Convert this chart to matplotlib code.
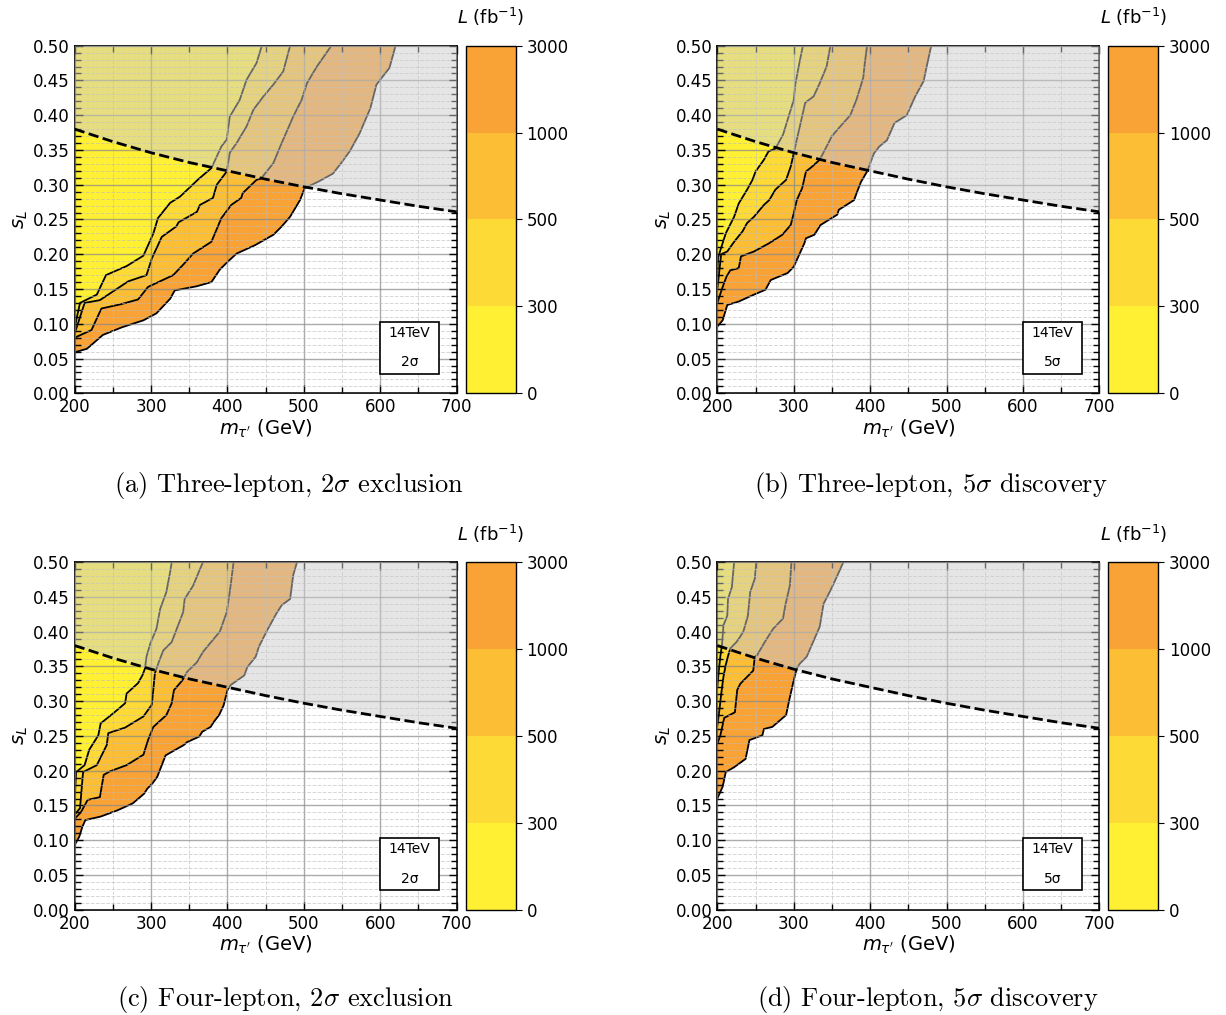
import matplotlib
matplotlib.use("Agg")
import matplotlib.pyplot as plt
import numpy as np
from matplotlib.colors import ListedColormap, Normalize
from matplotlib.cm import ScalarMappable
from matplotlib.patches import Rectangle
from matplotlib.ticker import MultipleLocator, FormatStrFormatter

plt.rcParams["mathtext.fontset"] = "dejavusans"

# luminosity bins of the colour bar
lumi_labels = ["0", "300", "500", "1000", "3000"]
lumi_colors = ["#FFF033", "#FDDA35", "#FBBE35", "#F9A336"]

# dashed bound (s_L upper limit)
bound_m = [200, 250, 300, 350, 400, 450, 500, 550, 600, 650, 700]
bound_s = [0.380, 0.362, 0.346, 0.332, 0.320, 0.308, 0.297, 0.287, 0.278, 0.269, 0.261]

# (a) three-lepton, 2 sigma : contours (m, s_L) for 300/500/1000/3000 fb^-1
a_300 = [(200, 0.093), (203, 0.110), (207, 0.130), (229, 0.142), (241, 0.170), (268, 0.183),
         (290, 0.198), (303, 0.230), (309, 0.252), (325, 0.274), (338, 0.283), (362, 0.308),
         (379, 0.324), (392, 0.355), (399, 0.365), (403, 0.398), (416, 0.422), (425, 0.451),
         (438, 0.475), (445, 0.50)]
a_500 = [(200, 0.086), (213, 0.130), (233, 0.134), (270, 0.161), (294, 0.170), (301, 0.194),
         (314, 0.225), (333, 0.240), (336, 0.246), (360, 0.261), (364, 0.271), (381, 0.281),
         (386, 0.300), (399, 0.319), (403, 0.346), (412, 0.360), (425, 0.384), (434, 0.408),
         (447, 0.427), (460, 0.444), (473, 0.463), (482, 0.50)]
a_1000 = [(200, 0.080), (212, 0.086), (222, 0.091), (235, 0.122), (260, 0.128), (283, 0.135),
          (296, 0.153), (329, 0.170), (342, 0.185), (355, 0.201), (379, 0.218), (392, 0.252),
          (405, 0.271), (418, 0.281), (420, 0.288), (438, 0.307), (444, 0.309), (460, 0.331),
          (469, 0.355), (486, 0.398), (497, 0.422), (504, 0.446), (517, 0.470), (536, 0.50)]
a_3000 = [(200, 0.059), (216, 0.064), (237, 0.084), (262, 0.095), (290, 0.105), (307, 0.115),
          (325, 0.136), (331, 0.148), (360, 0.154), (379, 0.160), (390, 0.178), (401, 0.190),
          (412, 0.201), (436, 0.213), (460, 0.228), (471, 0.240), (482, 0.254), (495, 0.278),
          (501, 0.295), (520, 0.305), (538, 0.316), (548, 0.330), (560, 0.348), (573, 0.374),
          (580, 0.392), (587, 0.410), (595, 0.444), (612, 0.468), (620, 0.50)]

# (b) three-lepton, 5 sigma
b_300 = [(200, 0.173), (201, 0.195), (204, 0.206), (211, 0.230), (222, 0.254), (228, 0.273),
         (239, 0.293), (246, 0.307), (250, 0.319), (261, 0.336), (267, 0.348), (276, 0.352),
         (286, 0.372), (300, 0.422), (302, 0.444), (307, 0.473), (312, 0.50)]
b_500 = [(200, 0.150), (203, 0.180), (205, 0.200), (213, 0.204), (222, 0.218), (233, 0.233),
         (239, 0.245), (248, 0.254), (261, 0.271), (268, 0.278), (276, 0.293), (290, 0.307),
         (296, 0.326), (300, 0.345), (304, 0.365), (308, 0.384), (315, 0.418), (326, 0.427),
         (334, 0.446), (343, 0.470), (348, 0.50)]
b_1000 = [(200, 0.130), (206, 0.150), (212, 0.168), (217, 0.177), (228, 0.180), (231, 0.197),
          (248, 0.204), (268, 0.216), (285, 0.228), (296, 0.242), (300, 0.259), (304, 0.278),
          (311, 0.295), (316, 0.319), (324, 0.326), (334, 0.336), (343, 0.355), (350, 0.370),
          (361, 0.384), (374, 0.400), (382, 0.422), (391, 0.454), (393, 0.475), (396, 0.50)]
b_3000 = [(200, 0.096), (207, 0.105), (213, 0.127), (228, 0.132), (246, 0.141), (263, 0.149),
          (270, 0.163), (292, 0.173), (300, 0.182), (307, 0.199), (314, 0.216), (316, 0.223),
          (327, 0.228), (335, 0.242), (357, 0.257), (359, 0.264), (372, 0.273), (379, 0.278),
          (383, 0.290), (388, 0.304), (396, 0.319), (405, 0.345), (412, 0.355), (422, 0.364),
          (432, 0.389), (448, 0.400), (459, 0.427), (470, 0.449), (474, 0.470), (480, 0.50)]

# (c) four-lepton, 2 sigma
c_300 = [(200, 0.160), (202, 0.198), (213, 0.208), (219, 0.230), (231, 0.251), (234, 0.268),
         (251, 0.283), (266, 0.297), (268, 0.311), (283, 0.326), (289, 0.338), (292, 0.347),
         (294, 0.364), (299, 0.383), (307, 0.404), (312, 0.433), (320, 0.457), (325, 0.486),
         (327, 0.50)]
c_500 = [(200, 0.137), (207, 0.146), (211, 0.198), (229, 0.208), (242, 0.237), (244, 0.254),
         (266, 0.262), (290, 0.278), (301, 0.295), (305, 0.340), (310, 0.356), (316, 0.373),
         (327, 0.385), (342, 0.428), (344, 0.447), (355, 0.466), (364, 0.490), (368, 0.50)]
c_1000 = [(200, 0.131), (208, 0.140), (217, 0.158), (233, 0.162), (238, 0.194), (246, 0.199),
          (268, 0.208), (290, 0.223), (296, 0.244), (303, 0.263), (320, 0.280), (327, 0.297),
          (330, 0.316), (341, 0.330), (347, 0.342), (360, 0.356), (368, 0.371), (377, 0.383),
          (390, 0.400), (399, 0.428), (403, 0.457), (408, 0.50)]
c_3000 = [(200, 0.093), (206, 0.105), (210, 0.119), (214, 0.129), (234, 0.134), (256, 0.143),
          (276, 0.153), (291, 0.167), (295, 0.174), (302, 0.182), (308, 0.191), (313, 0.205),
          (319, 0.222), (343, 0.237), (347, 0.241), (363, 0.249), (367, 0.256), (378, 0.263),
          (382, 0.270), (389, 0.280), (395, 0.294), (400, 0.316), (404, 0.323), (422, 0.337),
          (426, 0.349), (437, 0.364), (441, 0.378), (451, 0.400), (464, 0.426), (471, 0.438),
          (482, 0.447), (486, 0.481), (491, 0.50)]

# (d) four-lepton, 5 sigma
d_300 = [(200, 0.320), (202, 0.345), (204, 0.365), (206, 0.380), (208, 0.409), (213, 0.423),
         (214, 0.447), (219, 0.464), (222, 0.50)]
d_500 = [(200, 0.265), (203, 0.290), (205, 0.310), (208, 0.335), (211, 0.352), (214, 0.365),
         (217, 0.376), (225, 0.385), (230, 0.393), (234, 0.400), (240, 0.423), (243, 0.457),
         (249, 0.476), (251, 0.50)]
d_1000 = [(200, 0.239), (204, 0.251), (209, 0.276), (223, 0.284), (226, 0.316), (230, 0.325),
          (247, 0.344), (249, 0.364), (252, 0.366), (262, 0.385), (273, 0.404), (286, 0.419),
          (289, 0.438), (295, 0.467), (297, 0.50)]
d_3000 = [(200, 0.160), (207, 0.177), (211, 0.198), (222, 0.205), (237, 0.217), (242, 0.244),
          (259, 0.251), (261, 0.260), (272, 0.263), (290, 0.280), (294, 0.301), (300, 0.330),
          (304, 0.347), (308, 0.354), (317, 0.364), (334, 0.407), (339, 0.440), (348, 0.459),
          (356, 0.478), (365, 0.50)]

captions = [r"(a) Three-lepton, $2\sigma$ exclusion", r"(b) Three-lepton, $5\sigma$ discovery",
            r"(c) Four-lepton, $2\sigma$ exclusion", r"(d) Four-lepton, $5\sigma$ discovery"]
sig_labels = [r"2σ", r"5σ", r"2σ", r"5σ"]

panels = [
    [a_300, a_500, a_1000, a_3000],
    [b_300, b_500, b_1000, b_3000],
    [c_300, c_500, c_1000, c_3000],
    [d_300, d_500, d_1000, d_3000],
]

fig = plt.figure(figsize=(12.26, 10.15), dpi=100)

ax_pos = [[0.0609, 0.6125], [0.5851, 0.6125], [0.0609, 0.1037], [0.5851, 0.1037]]
cax_x = [0.3801, 0.904, 0.3801, 0.904]
cap_pos = [[0.236, 0.522], [0.759, 0.522], [0.233, 0.0148], [0.757, 0.0148]]
W, H = 0.3116, 0.3425

cmap = ListedColormap(lumi_colors)

for i, curves in enumerate(panels):
    ax = fig.add_axes([ax_pos[i][0], ax_pos[i][1], W, H])

    # fill from the largest luminosity region down to the smallest
    for k in range(3, -1, -1):
        m = [p[0] for p in curves[k]]
        s = [p[1] for p in curves[k]]
        ax.fill(m + [200], s + [0.5], color=lumi_colors[k], lw=0, zorder=1)
    for k in range(4):
        m = [p[0] for p in curves[k]]
        s = [p[1] for p in curves[k]]
        ax.plot(m, s, color="black", lw=1.3, zorder=2)

    # excluded region above the bound
    ax.fill_between(bound_m, bound_s, 0.5, color="#cccccc", alpha=0.5, lw=0, zorder=3)
    ax.plot(bound_m, bound_s, color="black", ls="--", lw=2, zorder=4)

    ax.set_xlim(200, 700)
    ax.set_ylim(0, 0.5)
    ax.xaxis.set_major_locator(MultipleLocator(100))
    ax.xaxis.set_minor_locator(MultipleLocator(50))
    ax.yaxis.set_major_locator(MultipleLocator(0.05))
    ax.yaxis.set_minor_locator(MultipleLocator(0.01))
    ax.yaxis.set_major_formatter(FormatStrFormatter("%.2f"))
    ax.tick_params(which="both", direction="in", top=True, right=True, labelsize=12)
    ax.tick_params(which="major", length=6, width=1)
    ax.tick_params(which="minor", length=4, width=1)
    ax.grid(which="major", color="#888888", lw=1.0, alpha=0.7, zorder=2.5)
    ax.grid(which="minor", color="#bbbbbb", ls="--", lw=0.7, alpha=0.6, zorder=2.5)
    ax.set_axisbelow(False)
    for sp in ax.spines.values():
        sp.set_linewidth(1.2)
    ax.set_xlabel(r"$m_{\tau'}$ (GeV)", fontsize=14, labelpad=1)
    ax.set_ylabel(r"$s_L$", fontsize=14, labelpad=2)

    # energy / significance box
    ax.add_patch(Rectangle((0.80, 0.056), 0.154, 0.149, transform=ax.transAxes,
                           fc="white", ec="black", lw=1.2, zorder=5))
    ax.text(0.877, 0.174, "14TeV", transform=ax.transAxes, ha="center", va="center",
            fontsize=10, zorder=6)
    ax.text(0.877, 0.089, sig_labels[i], transform=ax.transAxes, ha="center", va="center",
            fontsize=10, zorder=6)

    # colour bar
    cax = fig.add_axes([cax_x[i], ax_pos[i][1], 0.0408, H])
    sm = ScalarMappable(norm=Normalize(0, 4), cmap=cmap)
    cb = fig.colorbar(sm, cax=cax, ticks=[0, 1, 2, 3, 4])
    cb.ax.set_yticklabels(lumi_labels)
    cb.ax.tick_params(labelsize=12, length=4, direction="out")
    cb.outline.set_linewidth(1.0)
    cax.text(0.5, 1.05, r"$L$ (fb$^{-1}$)", transform=cax.transAxes, ha="center",
             va="bottom", fontsize=13)

    fig.text(cap_pos[i][0], cap_pos[i][1], captions[i], ha="center", va="center",
             fontsize=19, family="cmr10", math_fontfamily="cm")

fig.savefig("out.png", dpi=100)
